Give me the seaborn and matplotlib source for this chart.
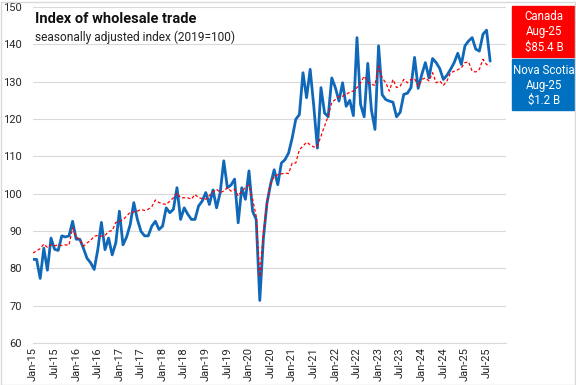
import matplotlib
matplotlib.use('Agg')
import matplotlib.pyplot as plt
from matplotlib.patches import Rectangle
import seaborn as sns
import pandas as pd

# monthly index, Jan-15 .. Aug-25 (2019=100)
months = pd.date_range('2015-01-01', '2025-08-01', freq='MS')

nova_scotia = [
    82.4, 82.4, 77.3, 85.4, 79.5, 88.1, 85.1, 84.8, 88.7, 88.4, 88.7, 92.6,
    87.8, 87.8, 85.4, 82.7, 81.5, 79.7, 85.0, 92.3, 85.0, 88.1, 83.6, 86.8,
    95.3, 86.3, 88.4, 91.7, 97.6, 93.1, 89.9, 88.7, 88.7, 91.3, 92.6, 90.4,
    91.3, 96.2, 94.9, 95.8, 101.6, 93.1, 96.2, 94.5, 93.1, 93.1, 96.7, 98.0,
    100.3, 97.1, 101.0, 96.2, 100.3, 108.8, 101.6, 102.3, 103.9, 92.2, 101.6, 98.5,
    106.1, 95.3, 93.1, 71.4, 88.0, 97.5, 102.5, 106.4, 102.4, 108.2, 109.1, 110.9,
    114.9, 119.9, 121.2, 132.4, 125.7, 133.3, 123.4, 112.2, 128.4, 121.6, 120.6, 131.0,
    128.4, 124.8, 129.7, 123.4, 125.0, 120.9, 141.8, 123.9, 120.6, 134.9, 122.5, 117.2,
    139.6, 126.5, 125.2, 124.8, 124.5, 120.6, 121.8, 126.6, 126.9, 128.4, 136.5, 128.2,
    131.9, 135.1, 131.0, 136.2, 135.1, 133.5, 130.6, 131.7, 133.3, 135.1, 137.6, 134.6,
    139.6, 140.9, 141.8, 138.7, 138.2, 142.7, 143.8, 135.5,
]

canada = [
    84.1, 84.7, 85.3, 86.5, 85.6, 86.3, 86.0, 86.3, 86.1, 86.3, 86.2, 90.8,
    88.4, 87.7, 85.9, 86.8, 87.5, 88.6, 88.8, 88.6, 88.8, 89.9, 90.1, 92.3,
    92.6, 93.0, 94.0, 95.0, 95.1, 95.3, 95.8, 95.5, 95.8, 96.5, 98.3, 97.6,
    97.3, 97.1, 98.0, 98.9, 100.2, 98.9, 98.9, 98.9, 98.5, 99.8, 98.9, 98.7,
    98.5, 99.5, 100.5, 101.2, 100.3, 100.7, 101.6, 100.7, 101.2, 99.4, 100.7, 101.6,
    102.3, 98.5, 94.0, 77.7, 89.5, 97.6, 102.8, 104.6, 105.1, 105.3, 105.5, 105.4,
    108.2, 108.2, 111.8, 112.7, 113.8, 113.1, 112.5, 112.7, 115.4, 118.1, 120.8, 124.5,
    125.2, 126.1, 126.1, 126.6, 127.2, 127.5, 128.4, 129.7, 131.5, 129.9, 129.3, 129.0,
    134.2, 131.0, 129.7, 127.5, 130.6, 128.4, 128.8, 130.6, 129.7, 130.6, 130.8, 128.8,
    130.6, 131.0, 130.2, 132.4, 129.7, 130.2, 129.0, 130.2, 132.4, 132.8, 133.2, 133.7,
    135.1, 135.3, 132.8, 132.6, 133.3, 136.0, 134.6, 134.2,
]

tick_labels = list(months[::6].strftime('%b-%y'))

df = pd.DataFrame({
    'month': range(len(months)),
    'Nova Scotia': nova_scotia,
    'Canada': canada,
})

sns.set_style('white')
plt.rcParams['font.family'] = ['Roboto', 'DejaVu Sans']

W, H = 576, 385
fig = plt.figure(figsize=(W / 100, H / 100), dpi=100)
ax = fig.add_axes([33 / W, 1 - 343 / H, (506 - 33) / W, (343 - 7) / H])

sns.lineplot(data=df, x='month', y='Nova Scotia', ax=ax, color='#1068B8',
             linewidth=2.0, zorder=3)
sns.lineplot(data=df, x='month', y='Canada', ax=ax, color='#FF0000',
             linewidth=0.9, linestyle=(0, (2.5, 1.8)), zorder=4)

ax.set_ylim(60, 150)
ax.set_yticks(range(60, 151, 10))
ax.set_xlim(0, 131.4)
ax.set_xticks(range(0, len(months), 6))
ax.set_xticklabels(tick_labels, rotation=90)
ax.set_xlabel('')
ax.set_ylabel('')
ax.grid(axis='y', color='#d9d9d9', linewidth=0.8)
ax.set_axisbelow(True)
for s in ['top', 'right', 'left']:
    ax.spines[s].set_visible(False)
ax.spines['bottom'].set_color('#d9d9d9')
ax.tick_params(length=0, labelsize=8, colors='#262626')
ax.tick_params(axis='y', pad=8)
ax.tick_params(axis='x', pad=3)

fig.text(35 / W, 1 - 12 / H, 'Index of wholesale trade', fontsize=10.5,
         fontweight='bold', va='top', color='#111111')
fig.text(35 / W, 1 - 31 / H, 'seasonally adjusted index (2019=100)',
         fontsize=8.6, va='top', color='#222222')

# side boxes
fig.add_artist(Rectangle((512 / W, 1 - 57 / H), 64 / W, 51 / H,
                         transform=fig.transFigure, color='#FF0000'))
fig.add_artist(Rectangle((512 / W, 1 - 110 / H), 64 / W, 51 / H,
                         transform=fig.transFigure, color='#0070C0'))
for i, t in enumerate(['Canada', 'Aug-25', '$85.4 B']):
    fig.text(544 / W, 1 - (17 + 15 * i) / H, t, color='white', fontsize=8.3,
             ha='center', va='center')
for i, t in enumerate(['Nova Scotia', 'Aug-25', '$1.2 B']):
    fig.text(544 / W, 1 - (70 + 15 * i) / H, t, color='white', fontsize=8.3,
             ha='center', va='center')

fig.add_artist(Rectangle((0.5 / W, 0.5 / H), (W - 2) / W, (H - 2) / H,
                         transform=fig.transFigure, fill=False,
                         edgecolor='#d9d9d9', linewidth=1))

fig.savefig('out.png', dpi=100)
